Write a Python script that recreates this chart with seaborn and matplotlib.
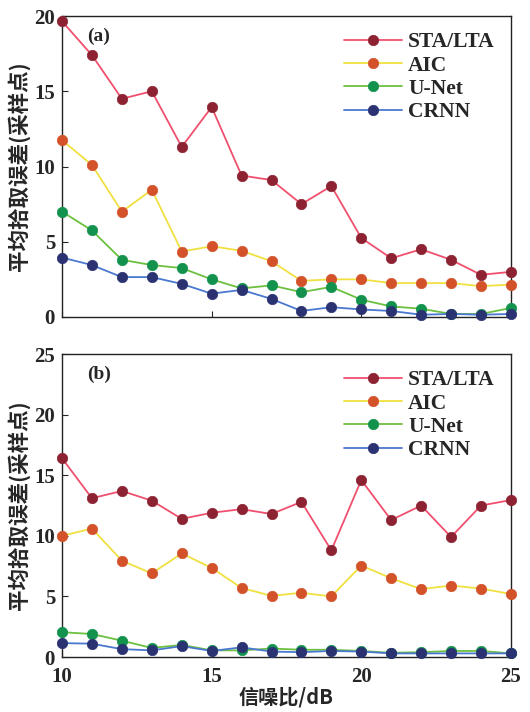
import numpy as np
import pandas as pd
import seaborn as sns
import matplotlib.pyplot as plt

# signal to noise ratio (dB)
snr = list(range(10, 26))

# (a) mean picking error, samples
sta_a = [19.65, 17.4, 14.5, 15.0, 11.3, 13.95, 9.4, 9.1, 7.5, 8.7, 5.25, 3.9, 4.5, 3.8, 2.8, 3.0]
aic_a = [11.75, 10.1, 7.0, 8.45, 4.35, 4.7, 4.4, 3.7, 2.4, 2.5, 2.5, 2.25, 2.25, 2.25, 2.05, 2.15]
unet_a = [7.0, 5.75, 3.8, 3.45, 3.25, 2.5, 1.9, 2.1, 1.65, 2.0, 1.15, 0.7, 0.55, 0.2, 0.2, 0.6]
crnn_a = [3.95, 3.45, 2.65, 2.65, 2.2, 1.55, 1.8, 1.2, 0.4, 0.65, 0.5, 0.4, 0.15, 0.2, 0.15, 0.2]

# (b)
sta_b = [16.4, 13.1, 13.7, 12.9, 11.4, 11.9, 12.2, 11.8, 12.8, 8.8, 14.6, 11.3, 12.5, 9.9, 12.5, 12.95]
aic_b = [10.0, 10.6, 7.95, 6.9, 8.55, 7.35, 5.7, 5.05, 5.3, 5.0, 7.55, 6.5, 5.6, 5.9, 5.65, 5.2]
unet_b = [2.05, 1.9, 1.35, 0.75, 1.0, 0.55, 0.55, 0.7, 0.6, 0.6, 0.5, 0.35, 0.4, 0.5, 0.5, 0.3]
crnn_b = [1.15, 1.1, 0.65, 0.55, 0.9, 0.5, 0.8, 0.45, 0.4, 0.5, 0.45, 0.3, 0.3, 0.3, 0.3, 0.3]

methods = ['STA/LTA', 'AIC', 'U-Net', 'CRNN']
line_colors = ['#f0506e', '#f0e040', '#6cc040', '#4a78d0']
dot_colors = ['#8c2232', '#d4522a', '#12924c', '#2a3272']

sns.set_style('ticks')
plt.rcParams['font.family'] = ['Liberation Serif', 'Noto Sans CJK SC']
plt.rcParams['font.weight'] = 'bold'
cjk = ['Noto Sans CJK SC', 'DejaVu Sans']

fig = plt.figure(figsize=(5.3, 7.12), dpi=100)
ax1 = fig.add_axes([0.117, 0.5548, 0.847, 0.4227])
ax2 = fig.add_axes([0.117, 0.0772, 0.847, 0.4256])

panels = [(ax1, [sta_a, aic_a, unet_a, crnn_a], 20, '(a)'),
          (ax2, [sta_b, aic_b, unet_b, crnn_b], 25, '(b)')]

for ax, series, ymax, tag in panels:
    for name, vals, lc, dc in zip(methods, series, line_colors, dot_colors):
        df = pd.DataFrame({'snr': snr, 'err': vals})
        sns.lineplot(data=df, x='snr', y='err', ax=ax, color=lc, lw=1.3,
                     marker='o', markersize=7.5, markerfacecolor=dc,
                     markeredgecolor=dc, markeredgewidth=0.5, label=name,
                     clip_on=False, zorder=3)
    ax.set_xlim(10, 25)
    ax.set_ylim(0, ymax)
    ax.set_xticks([10, 15, 20, 25])
    ax.set_yticks(np.arange(0, ymax + 1, 5))
    ax.tick_params(direction='in', labelsize=15, length=4, width=0.8)
    ax.tick_params(axis='x', pad=7)
    ax.tick_params(axis='y', pad=5)
    for s in ax.spines.values():
        s.set_linewidth(1.0)
        s.set_color('#222222')
    ax.set_ylabel('平均拾取误差(采样点)', family=cjk, fontsize=15.5,
                  fontweight='bold', labelpad=3)
    ax.set_xlabel('')
    ax.text(0.055, 0.96, tag, transform=ax.transAxes, fontsize=14,
            fontweight='bold', va='top')
    leg = ax.legend(loc='upper right', frameon=False, fontsize=15.5,
                    handlelength=2.7, handletextpad=0.3, labelspacing=0.15,
                    borderaxespad=0.15, borderpad=0.6)

ax1.set_xticklabels([])
ax2.set_xlabel('信噪比/dB', family=cjk, fontsize=14.5, fontweight='bold',
               labelpad=0)

fig.savefig('out.png', dpi=100)
